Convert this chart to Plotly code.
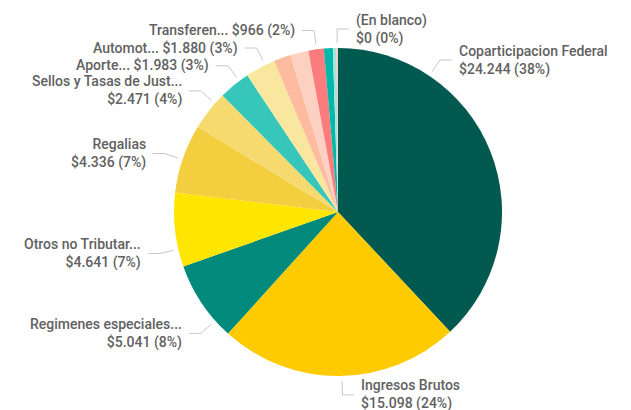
import math
import plotly.graph_objects as go

# ---- data ----
categories = ["Coparticipacion Federal", "Ingresos Brutos", "Regimenes especiales...",
              "Otros no Tributar...", "Regalias", "Sellos y Tasas de Just...",
              "Aporte...", "Automot...", "Otros 1", "Otros 2", "Transferen...",
              "Otros 3", "Otros 4", "Otros 5", "(En blanco)"]
values = [24244, 15098, 5041, 4641, 4336, 2471, 1983, 1880, 1080, 1140, 966, 560, 230, 90, 0]
colors = ["#02594F", "#FDCB00", "#018A7C", "#FEE600", "#F3CF40", "#F6DA6F",
          "#36C6BA", "#F9E79F", "#FDBB9F", "#FDD1C2", "#FB7C7C", "#01B8AA",
          "#A3E4DD", "#F9C8C0", "#E0E0E0"]
show_label = [True, True, True, True, True, True, True, True, False, False, True,
              False, False, False, True]

# ---- label layout (per labelled slice): angle offset, side, single line ----
angle_offset = {0: -34.6, 1: -0.9, 2: -7.9, 3: -6.8, 4: -0.4, 5: 3.2, 6: 2.2,
                7: 1.9, 10: 0.2, 14: -0.3}
side = {0: 1, 1: 1, 14: 1}          # +1 right, default -1 left
one_line = {6, 7, 10}

W, H = 631, 410
CX, CY, R = 338, 212, 164

total = sum(values)

fig = go.Figure()
fig.add_trace(go.Pie(
    labels=categories, values=values, sort=False, direction="clockwise",
    rotation=0, marker=dict(colors=colors, line=dict(width=0)),
    textinfo="none", hoverinfo="skip", showlegend=False,
    domain=dict(x=[(CX - R) / W, (CX + R) / W], y=[(H - CY - R) / H, (H - CY + R) / H]),
))

def px(x):
    return x / W

def py(y):
    return 1 - y / H

annotations = []
shapes = []
cum = 0
for i, (name, v) in enumerate(zip(categories, values)):
    mid = (cum + v / 2) / total * 360
    cum += v
    if not show_label[i]:
        continue
    a = math.radians(mid + angle_offset.get(i, 0))
    s = side.get(i, -1)
    sx, sy = CX + (R + 5) * math.sin(a), CY - (R + 5) * math.cos(a)
    ex, ey = CX + (R + 19) * math.sin(a), CY - (R + 19) * math.cos(a)
    hx = ex + s * 12
    tx = hx + s * 5
    pct = round(v / total * 100)
    val = "$" + f"{v:,.0f}".replace(",", ".") + f" ({pct}%)"
    txt = f"{name} {val}" if i in one_line else f"{name}<br>{val}"
    shapes.append(dict(type="path", xref="paper", yref="paper",
                       path=f"M {px(sx)} {py(sy)} L {px(ex)} {py(ey)} L {px(hx)} {py(ey)}",
                       line=dict(color="#C8C8C8", width=1)))
    annotations.append(dict(x=px(tx), y=py(ey), xref="paper", yref="paper",
                            text=txt, showarrow=False,
                            xanchor="left" if s > 0 else "right", yanchor="middle",
                            align="left" if s > 0 else "right",
                            font=dict(family="Roboto", size=14, color="#616161",
                                      weight=500)))

fig.update_layout(width=W, height=H, margin=dict(l=0, r=0, t=0, b=0),
                  paper_bgcolor="white", plot_bgcolor="white",
                  annotations=annotations, shapes=shapes)
fig.write_html("out.html")
